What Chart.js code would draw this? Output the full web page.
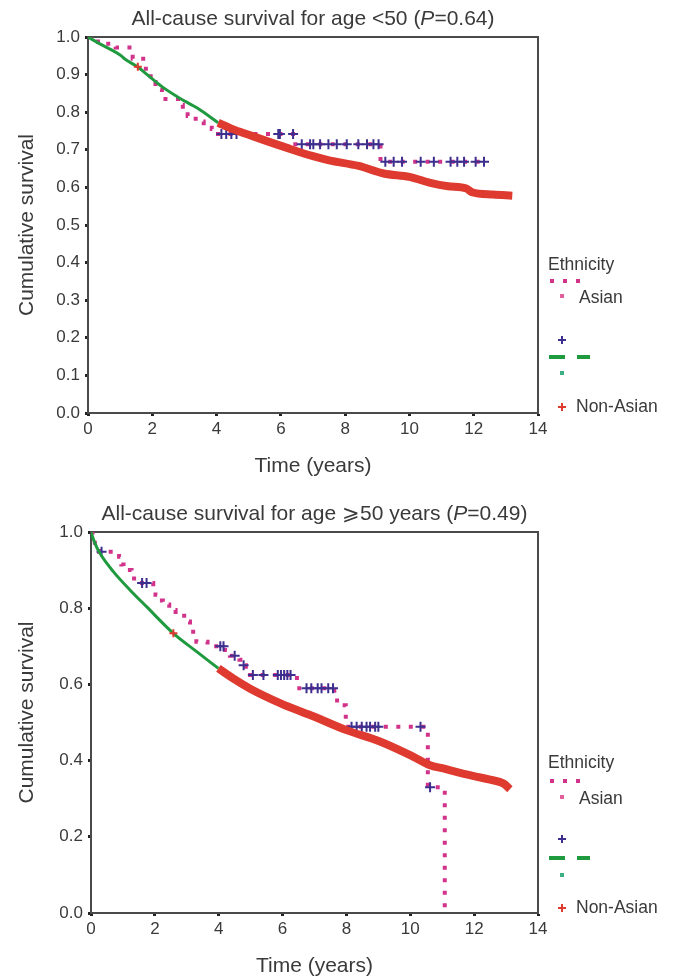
<!DOCTYPE html>
<html>
<head>
<meta charset="utf-8">
<script src="https://cdn.jsdelivr.net/npm/chart.js@4.4.1/dist/chart.umd.min.js"></script>
<style>
  body { margin: 0; background: #fff; }
  #wrap { position: relative; width: 677px; height: 977px; }
  canvas { position: absolute; left: 0; }
</style>
</head>
<body>
<div id="wrap">
  <canvas id="young" width="677" height="490" style="top:0"></canvas>
  <canvas id="old" width="677" height="487" style="top:490px"></canvas>
</div>
<script>
// values: time in years, cumulative survival

// age < 50
var youngAsianTime = [0, 0.11, 0.56, 0.86, 1.39, 1.8, 1.95, 2.1, 2.3, 2.8, 2.95, 3.1, 3.35, 3.6, 3.85, 3.96, 6.45, 9.1, 12.4];
var youngAsianSurv = [1.0, 0.988, 0.982, 0.972, 0.942, 0.905, 0.88, 0.86, 0.835, 0.82, 0.80, 0.79, 0.775, 0.765, 0.755, 0.742, 0.715, 0.668, 0.668];
var youngAsianCensTime = [4.15, 4.3, 4.46, 4.62, 5.92, 5.97, 6.38, 6.65, 6.91, 7.01, 7.22, 7.48, 7.74, 8.05, 8.41, 8.68, 8.88, 9.04, 9.25, 9.51, 9.77, 10.35, 10.76, 11.28, 11.49, 11.7, 12.06, 12.32];
var youngAsianCensSurv = [0.742, 0.742, 0.742, 0.742, 0.742, 0.742, 0.742, 0.715, 0.715, 0.715, 0.715, 0.715, 0.715, 0.715, 0.715, 0.715, 0.715, 0.715, 0.668, 0.668, 0.668, 0.668, 0.668, 0.668, 0.668, 0.668, 0.668, 0.668];
var youngNonAsianTime = [0, 0.3, 0.61, 1.0, 1.17, 1.55, 1.84, 2.3, 2.84, 3.4, 4.05];
var youngNonAsianSurv = [1.0, 0.985, 0.971, 0.952, 0.94, 0.92, 0.9, 0.868, 0.838, 0.811, 0.772];
var youngNonAsianLateTime = [4.05, 4.5, 5, 5.5, 6.19, 7, 7.5, 8.42, 9.2, 10, 10.65, 11.2, 11.77, 11.95, 12.6, 13.2];
var youngNonAsianLateSurv = [0.772, 0.755, 0.74, 0.725, 0.705, 0.683, 0.672, 0.657, 0.637, 0.628, 0.612, 0.603, 0.597, 0.587, 0.581, 0.578];
var youngNonAsianCensTime = [1.55];
var youngNonAsianCensSurv = [0.921];

// age >= 50
var oldAsianTime = [0, 0.05, 0.12, 0.25, 0.88, 0.95, 1.02, 1.27, 1.35, 1.95, 2.02, 2.1, 2.25, 2.45, 2.65, 3.0, 3.1, 3.2, 3.3, 3.65, 4.2, 4.35, 4.65, 4.75, 4.85, 6.45, 7.62, 7.8, 7.98, 10.55, 11.08];
var oldAsianSurv = [1.0, 0.985, 0.965, 0.948, 0.935, 0.915, 0.9, 0.885, 0.866, 0.85, 0.835, 0.82, 0.81, 0.795, 0.78, 0.765, 0.745, 0.728, 0.712, 0.7, 0.69, 0.675, 0.665, 0.65, 0.625, 0.59, 0.558, 0.545, 0.489, 0.33, 0.0];
var oldAsianCensTime = [0.33, 1.6, 1.74, 4.05, 4.15, 4.5, 4.78, 5.07, 5.4, 5.85, 5.95, 6.05, 6.15, 6.25, 6.75, 6.9, 7.1, 7.22, 7.43, 7.58, 8.16, 8.32, 8.48, 8.63, 8.74, 8.9, 9.0, 10.32, 10.62];
var oldAsianCensSurv = [0.948, 0.866, 0.866, 0.7, 0.7, 0.675, 0.65, 0.625, 0.625, 0.625, 0.625, 0.625, 0.625, 0.625, 0.59, 0.59, 0.59, 0.59, 0.59, 0.59, 0.489, 0.489, 0.489, 0.489, 0.489, 0.489, 0.489, 0.489, 0.33];
var oldNonAsianTime = [0, 0.125, 0.28, 0.7, 1.22, 1.74, 2.58, 3.31, 3.99];
var oldNonAsianSurv = [1.0, 0.97, 0.944, 0.896, 0.848, 0.804, 0.734, 0.686, 0.642];
var oldNonAsianLateTime = [3.99, 4.5, 5.0, 5.92, 7.0, 8.0, 9.05, 10.1, 10.62, 11.0, 11.96, 12.5, 12.92, 13.12];
var oldNonAsianLateSurv = [0.642, 0.613, 0.588, 0.551, 0.515, 0.48, 0.45, 0.41, 0.388, 0.38, 0.36, 0.35, 0.34, 0.325];
var oldNonAsianCensTime = [2.58];
var oldNonAsianCensSurv = [0.734];

var FONT = '"Liberation Sans", Arial, sans-serif';
var TEXT = '#3a3a3a';
var MAGENTA = '#d1338b', NAVY = '#3d2f8e', GREEN = '#1f9a3e', RED = '#de3a2f', TEAL = '#3fae83';

function xy(t, s) {
    return t.map(function (v, i) { return { x: v, y: s[i] }; });
}

function cross(ctx, x, y, r, color) {
    ctx.strokeStyle = color;
    ctx.lineWidth = 2;
    ctx.beginPath();
    ctx.moveTo(x - r, y); ctx.lineTo(x + r, y);
    ctx.moveTo(x, y - r); ctx.lineTo(x, y + r);
    ctx.stroke();
}

// frame, titles and the ethnicity key
var kmDecor = {
    id: 'kmDecor',
    beforeDatasetsDraw: function (chart) {
        var a = chart.chartArea, ctx = chart.ctx;
        ctx.save();
        ctx.strokeStyle = '#4a4a4a';
        ctx.lineWidth = 2;
        ctx.strokeRect(a.left, a.top, a.right - a.left, a.bottom - a.top);
        ctx.restore();
    },
    afterDraw: function (chart, args, o) {
        var a = chart.chartArea, ctx = chart.ctx;
        ctx.save();
        ctx.fillStyle = TEXT;
        ctx.textBaseline = 'middle';

        // title with italic P
        var w = 0;
        o.title.forEach(function (p) {
            ctx.font = (p[1] ? 'italic ' : '') + '21px ' + FONT;
            w += ctx.measureText(p[0]).width;
        });
        var x = (a.left + a.right) / 2 - w / 2;
        ctx.textAlign = 'left';
        o.title.forEach(function (p) {
            ctx.font = (p[1] ? 'italic ' : '') + '21px ' + FONT;
            ctx.fillText(p[0], x, a.top - 18);
            x += ctx.measureText(p[0]).width;
        });

        // axis titles
        ctx.font = '21px ' + FONT;
        ctx.textAlign = 'center';
        ctx.fillText('Time (years)', (a.left + a.right) / 2, a.bottom + 53);
        ctx.save();
        ctx.translate(27, (a.top + a.bottom) / 2 + o.yTitleShift);
        ctx.rotate(-Math.PI / 2);
        ctx.fillText('Cumulative survival', 0, 0);
        ctx.restore();

        // key
        var k = o.key, top = a.top;
        ctx.textAlign = 'left';
        ctx.font = '17.5px ' + FONT;
        ctx.fillStyle = TEXT;
        ctx.fillText('Ethnicity', 548, top + k[0]);
        ctx.fillStyle = MAGENTA;
        [550, 563, 576].forEach(function (dx) { ctx.fillRect(dx, top + k[1] - 2, 4, 4); });
        ctx.fillStyle = '#e0609e';
        ctx.fillRect(560, top + k[2] - 2, 4, 4);
        ctx.fillStyle = TEXT;
        ctx.fillText('Asian', 579, top + k[2] + 2);
        cross(ctx, 562, top + k[3], 4, NAVY);
        ctx.fillStyle = GREEN;
        ctx.fillRect(549, top + k[4] - 2, 16, 4);
        ctx.fillRect(577, top + k[4] - 2, 13, 4);
        ctx.fillStyle = TEAL;
        ctx.fillRect(560, top + k[5] - 2, 4, 4);
        cross(ctx, 562, top + k[6], 4, RED);
        ctx.fillStyle = TEXT;
        ctx.fillText('Non-Asian', 576, top + k[6]);
        ctx.restore();
    }
};

function makeChart(id, d) {
    return new Chart(document.getElementById(id), {
        type: 'line',
        data: {
            datasets: [
                {
                    label: 'Asian',
                    data: xy(d.asianT, d.asianS),
                    stepped: 'before',
                    borderColor: MAGENTA,
                    borderWidth: 4,
                    borderDash: [4, 8.5],
                    pointRadius: 0,
                    order: 4
                },
                {
                    label: 'Asian censored',
                    data: xy(d.asianCensT, d.asianCensS),
                    showLine: false,
                    pointStyle: 'cross',
                    pointRadius: 5,
                    pointBorderWidth: 2,
                    pointBorderColor: NAVY,
                    order: 3
                },
                {
                    label: 'Non-Asian',
                    data: xy(d.nonT, d.nonS),
                    borderColor: GREEN,
                    borderWidth: 3,
                    cubicInterpolationMode: 'monotone',
                    pointRadius: 0,
                    order: 2
                },
                {
                    label: 'Non-Asian censored (dense)',
                    data: xy(d.lateT, d.lateS),
                    borderColor: RED,
                    borderWidth: 8,
                    cubicInterpolationMode: 'monotone',
                    pointRadius: 0,
                    order: 1
                },
                {
                    label: 'Non-Asian censored',
                    data: xy(d.nonCensT, d.nonCensS),
                    showLine: false,
                    pointStyle: 'cross',
                    pointRadius: 4,
                    pointBorderWidth: 2,
                    pointBorderColor: RED,
                    order: 0
                }
            ]
        },
        options: {
            responsive: false,
            animation: false,
            layout: { padding: { left: 0, right: d.padRight, top: d.padTop, bottom: 0 } },
            scales: {
                x: {
                    type: 'linear',
                    min: 0,
                    max: 14,
                    ticks: { stepSize: 2, color: TEXT, padding: 3, maxRotation: 0, font: { size: 17, family: FONT } },
                    grid: { drawOnChartArea: false, tickLength: 3, tickWidth: 3, tickColor: '#222' },
                    border: { color: '#4a4a4a', width: 2 },
                    afterFit: function (s) { s.height = d.xHeight; }
                },
                y: {
                    min: 0,
                    max: 1,
                    ticks: {
                        stepSize: d.yStep, color: TEXT, padding: 5, font: { size: 17, family: FONT },
                        callback: function (v) { return v.toFixed(1); }
                    },
                    grid: { drawOnChartArea: false, tickLength: 3, tickWidth: 3, tickColor: '#222' },
                    border: { color: '#4a4a4a', width: 2 },
                    afterFit: function (s) { s.width = d.yWidth; }
                }
            },
            plugins: {
                legend: { display: false },
                tooltip: { enabled: false },
                kmDecor: d.decor
            }
        },
        plugins: [kmDecor]
    });
}

makeChart('young', {
    asianT: youngAsianTime, asianS: youngAsianSurv,
    asianCensT: youngAsianCensTime, asianCensS: youngAsianCensSurv,
    nonT: youngNonAsianTime, nonS: youngNonAsianSurv,
    lateT: youngNonAsianLateTime, lateS: youngNonAsianLateSurv,
    nonCensT: youngNonAsianCensTime, nonCensS: youngNonAsianCensSurv,
    yStep: 0.1, padTop: 37, padRight: 139, yWidth: 88, xHeight: 77,
    decor: {
        title: [['All-cause survival for age <50 (', false], ['P', true], ['=0.64)', false]],
        yTitleShift: 0,
        key: [228, 244, 259, 303, 320, 336, 370]
    }
});

makeChart('old', {
    asianT: oldAsianTime, asianS: oldAsianSurv,
    asianCensT: oldAsianCensTime, asianCensS: oldAsianCensSurv,
    nonT: oldNonAsianTime, nonS: oldNonAsianSurv,
    lateT: oldNonAsianLateTime, lateS: oldNonAsianLateSurv,
    nonCensT: oldNonAsianCensTime, nonCensS: oldNonAsianCensSurv,
    yStep: 0.2, padTop: 42, padRight: 139, yWidth: 91, xHeight: 64,
    decor: {
        title: [['All-cause survival for age \u2A7E50 years (', false], ['P', true], ['=0.49)', false]],
        yTitleShift: -10,
        key: [231, 249, 265, 307, 326, 343, 376]
    }
});
</script>
</body>
</html>
